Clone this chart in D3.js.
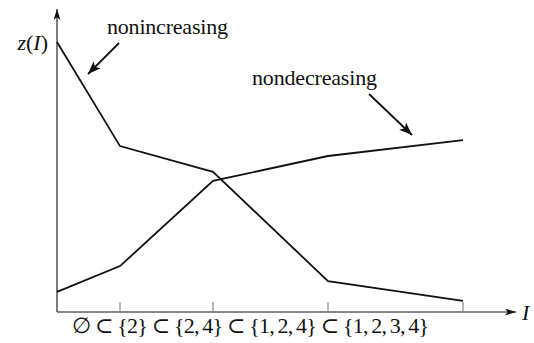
<!DOCTYPE html>
<html>
<head>
<meta charset="utf-8">
<script src="https://cdn.jsdelivr.net/npm/d3@7"></script>
<style>
  html, body { margin: 0; padding: 0; background: #fff; }
  svg { display: block; }
  text { font-family: "Liberation Serif", "DejaVu Serif", serif; fill: #111; }
</style>
</head>
<body>
<svg id="chart" width="534" height="343"></svg>
<script>
// Chain of subsets along the horizontal axis and their relative offsets
const sets = ["∅", "{2}", "{2,\u20094}", "{1,\u20092,\u20094}", "{1,\u20092,\u20093,\u20094}"];
const setOffsets = [0, 63, 156, 271, 406];

// z(I) for the two set functions
const nonincreasing = [90, 55.3, 46.7, 10.3, 3.7];
const nondecreasing = [6.7, 15.3, 43.7, 52, 57.3];

const chainLabel = sets.join(" ⊂ ");

const svg = d3.select("#chart");
const ink = "#111";

const x = d3.scaleLinear().domain([0, 406]).range([57, 463]);
const y = d3.scaleLinear().domain([0, 100]).range([312, 12]);

// arrowheads
const defs = svg.append("defs");
function head(id, w, l) {
  defs.append("marker")
    .attr("id", id)
    .attr("viewBox", `0 ${-w} ${l} ${2 * w}`)
    .attr("refX", l).attr("refY", 0)
    .attr("markerUnits", "userSpaceOnUse")
    .attr("markerWidth", l).attr("markerHeight", 2 * w)
    .attr("orient", "auto")
    .append("path")
    .attr("d", `M0,${-w}L${l},0L0,${w}L${l * 0.25},0Z`)
    .attr("fill", ink);
}
head("axisHead", 3.5, 11);
head("noteHead", 5, 13);

// axes
svg.append("line")
  .attr("x1", x(0)).attr("y1", y(0))
  .attr("x2", x(0)).attr("y2", 9)
  .attr("stroke", ink).attr("stroke-width", 1.1)
  .attr("marker-end", "url(#axisHead)");
svg.append("line")
  .attr("x1", x(0)).attr("y1", y(0))
  .attr("x2", 516).attr("y2", y(0))
  .attr("stroke", ink).attr("stroke-width", 1.1)
  .attr("marker-end", "url(#axisHead)");

// tick marks at each set after the empty set
svg.append("g").selectAll("line")
  .data(setOffsets.slice(1))
  .join("line")
  .attr("x1", d => x(d)).attr("x2", d => x(d))
  .attr("y1", y(0)).attr("y2", y(0) - 10)
  .attr("stroke", "#888").attr("stroke-width", 1.2);

// the two curves
const line = d3.line()
  .x((d, i) => x(setOffsets[i]))
  .y(d => y(d));

[nonincreasing, nondecreasing].forEach(series => {
  svg.append("path")
    .datum(series)
    .attr("d", line)
    .attr("fill", "none")
    .attr("stroke", ink)
    .attr("stroke-width", 1.8)
    .attr("stroke-linejoin", "miter");
});

// annotations
const fs = 22;
svg.append("text")
  .attr("x", 107).attr("y", 34)
  .attr("font-size", fs)
  .attr("textLength", 121).attr("lengthAdjust", "spacing")
  .text("nonincreasing");
svg.append("line")
  .attr("x1", 119).attr("y1", 43).attr("x2", 88).attr("y2", 74)
  .attr("stroke", ink).attr("stroke-width", 1.8)
  .attr("marker-end", "url(#noteHead)");

svg.append("text")
  .attr("x", 252).attr("y", 85)
  .attr("font-size", fs)
  .attr("textLength", 125).attr("lengthAdjust", "spacing")
  .text("nondecreasing");
svg.append("line")
  .attr("x1", 369).attr("y1", 94).attr("x2", 412).attr("y2", 135)
  .attr("stroke", ink).attr("stroke-width", 1.8)
  .attr("marker-end", "url(#noteHead)");

// axis titles
const zt = svg.append("text")
  .attr("x", 48).attr("y", 50)
  .attr("text-anchor", "end")
  .attr("font-size", fs);
zt.append("tspan").attr("font-style", "italic").text("z");
zt.append("tspan").text("(");
zt.append("tspan").attr("font-style", "italic").text("I");
zt.append("tspan").text(")");

svg.append("text")
  .attr("x", 522).attr("y", 320)
  .attr("font-size", fs)
  .attr("font-style", "italic")
  .text("I");

// subset chain under the axis
svg.append("text")
  .attr("x", 72).attr("y", 333)
  .attr("font-size", fs)
  .attr("textLength", 357).attr("lengthAdjust", "spacing")
  .text(chainLabel);
</script>
</body>
</html>
